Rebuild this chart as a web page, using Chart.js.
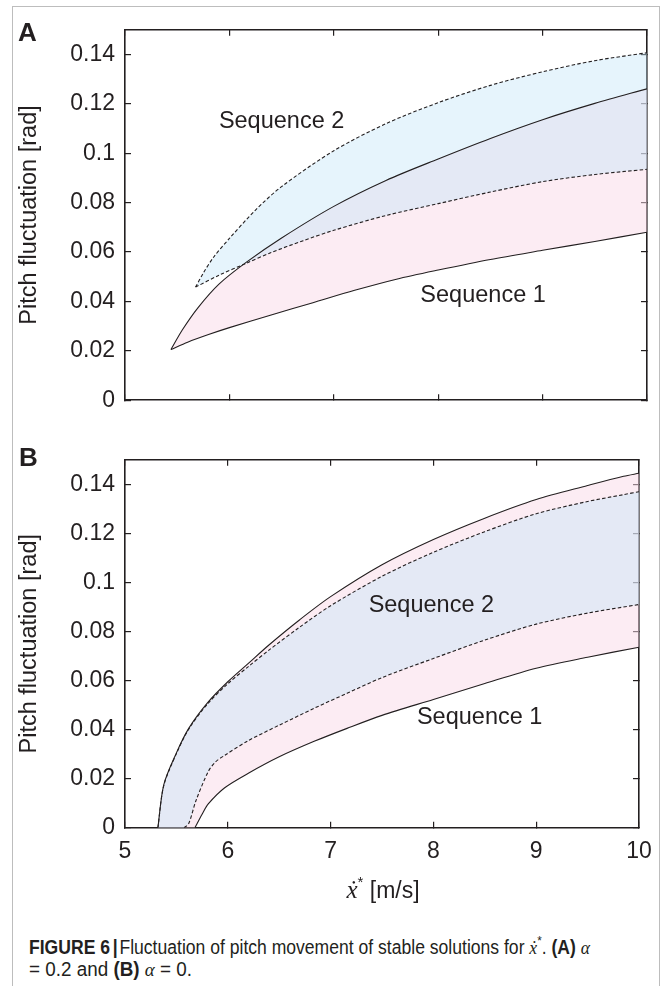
<!DOCTYPE html>
<html>
<head>
<meta charset="utf-8">
<title>Figure 6 - pitch fluctuation</title>
<script src="https://cdn.jsdelivr.net/npm/chart.js@4.4.1/dist/chart.umd.min.js"></script>
<style>
  html, body { margin: 0; padding: 0; background: #fff; }
  body {
    width: 668px; height: 986px; position: relative; overflow: hidden;
    font-family: "Liberation Sans", Arial, Helvetica, sans-serif; color: #231f20;
  }
  .outline {
    position: absolute; left: 12px; top: 6px; width: 648px; height: 1010px;
    border: 1.5px solid #bdbdbd; box-sizing: border-box;
  }
  canvas { position: absolute; left: 0; }
  #chartA { top: 0; }
  #chartB { top: 430px; }
  .letter { position: absolute; font-weight: bold; font-size: 26px; line-height: 1; }
  .xtitle {
    position: absolute; left: 0; width: 766px; top: 876px; text-align: center;
    font-size: 23px; line-height: 1; white-space: nowrap;
  }
  .mth { font-family: "Liberation Serif", "DejaVu Serif", serif; font-style: italic; }
  .xtitle .mth { font-size: 25px; }
  .xtitle sup { font-size: 15px; position: relative; top: -2px; }
  .cap {
    position: absolute; left: 29px; font-size: 19.5px; line-height: 1; white-space: nowrap;
    font-family: "Liberation Sans Narrow", "Liberation Sans", Arial, sans-serif;
    transform-origin: 0 0;
  }
  .cap .bar { font-weight: bold; margin: 0 2px 0 3px; }
  .cap sup { font-size: 13px; position: relative; top: -1px; }
  #cap1 { top: 935px; }
  #cap2 { top: 959.5px; }
</style>
</head>
<body>
<div class="outline"></div>
<canvas id="chartA" width="668" height="430"></canvas>
<canvas id="chartB" width="668" height="456"></canvas>
<div class="letter" style="left:18px; top:18.7px;">A</div>
<div class="letter" style="left:19px; top:444px;">B</div>
<div class="xtitle"><span class="mth">ẋ</span><sup>*</sup> [m/s]</div>
<div class="cap" id="cap1"><b>FIGURE 6</b><span class="bar">|</span>Fluctuation of pitch movement of stable solutions for <span class="mth">ẋ</span><sup>*</sup>. <b>(A)</b> <span class="mth">α</span></div>
<div class="cap" id="cap2">= 0.2 and <b>(B)</b> <span class="mth">α</span> = 0.</div>

<script>
// axis ticks
const xTickValues = [5, 6, 7, 8, 9, 10];
const xTickLabels = ['5', '6', '7', '8', '9', '10'];
const yTickValues = [0, 0.02, 0.04, 0.06, 0.08, 0.1, 0.12, 0.14];
const yTickLabels = ['0', '0.02', '0.04', '0.06', '0.08', '0.1', '0.12', '0.14'];

// (A) alpha = 0.2  (solid = Sequence 1, dashed = Sequence 2)
const aSeq1UpperX = [5.44, 5.55, 5.7, 5.9, 6.16, 6.5, 7.0, 7.5, 8.0, 8.5, 9.0, 9.5, 10];
const aSeq1UpperY = [0.0205, 0.0285, 0.0375, 0.047, 0.0558, 0.0657, 0.0785, 0.089, 0.0977, 0.106, 0.1136, 0.1202, 0.1261];
const aSeq1LowerX = [5.44, 5.6, 5.8, 6.0, 6.4, 6.8, 7.2, 7.6, 8.0, 8.5, 9.0, 9.5, 10];
const aSeq1LowerY = [0.0205, 0.0235, 0.0266, 0.0294, 0.0345, 0.0395, 0.0445, 0.049, 0.0527, 0.057, 0.0607, 0.0643, 0.068];
const aSeq2UpperX = [5.676, 5.75, 5.85, 6.0, 6.25, 6.5, 7.0, 7.5, 8.0, 8.5, 9.0, 9.5, 10];
const aSeq2UpperY = [0.0458, 0.0515, 0.058, 0.0655, 0.077, 0.0865, 0.101, 0.112, 0.1205, 0.1275, 0.133, 0.1375, 0.1407];
const aSeq2LowerX = [5.676, 5.9, 6.165, 6.4, 6.7, 7.0, 7.5, 8.0, 8.5, 9.0, 9.5, 10];
const aSeq2LowerY = [0.0458, 0.0506, 0.0555, 0.0598, 0.0645, 0.0688, 0.0748, 0.0796, 0.0843, 0.0885, 0.0914, 0.0935];

// (B) alpha = 0
const bSeq1UpperX = [5.32, 5.377, 5.5, 5.62, 5.8, 6.0, 6.2, 6.4, 6.7, 7.0, 7.5, 8.0, 8.5, 9.0, 9.5, 9.85, 10];
const bSeq1UpperY = [0, 0.0175, 0.0305, 0.0405, 0.0508, 0.0595, 0.067, 0.0745, 0.0848, 0.0942, 0.1072, 0.1175, 0.1262, 0.1338, 0.1395, 0.1433, 0.1445];
const bSeq1LowerX = [5.68, 5.75, 5.81, 5.97, 6.2, 6.5, 6.84, 7.16, 7.5, 8.0, 8.5, 9.0, 9.5, 10];
const bSeq1LowerY = [0, 0.0055, 0.0097, 0.0163, 0.0222, 0.0289, 0.0352, 0.0405, 0.0458, 0.0523, 0.0588, 0.065, 0.0695, 0.0736];
const bSeq2UpperX = [5.32, 5.377, 5.5, 5.62, 5.8, 6.0, 6.2, 6.4, 6.7, 7.0, 7.5, 8.0, 8.5, 9.0, 9.5, 9.85, 10];
const bSeq2UpperY = [0, 0.0172, 0.0302, 0.0402, 0.0503, 0.0587, 0.0657, 0.0724, 0.0818, 0.0905, 0.1025, 0.1123, 0.1207, 0.128, 0.133, 0.1358, 0.137];
const bSeq2LowerX = [5.575, 5.62, 5.69, 5.81, 5.88, 5.97, 6.2, 6.5, 6.84, 7.16, 7.5, 8.0, 8.5, 9.0, 9.5, 10];
const bSeq2LowerY = [0, 0.0017, 0.011, 0.0229, 0.0268, 0.0295, 0.0355, 0.0418, 0.0487, 0.0548, 0.0612, 0.069, 0.0765, 0.083, 0.0875, 0.091];

const seqNames = ['Sequence 1', 'Sequence 2'];

const ink = '#231f20';
const sans = '"Liberation Sans", Arial, sans-serif';
const seq1Fill = 'rgba(249, 217, 231, 0.5)';
const seq2Fill = 'rgba(196, 229, 248, 0.42)';

function pts(xs, ys) {
  return xs.map((x, i) => ({ x: x, y: ys[i] }));
}

// closed outline: upper edge left->right, then lower edge right->left
function outline(upper, lower) {
  const up = upper.slice();
  const low = lower.slice().reverse();
  return up.concat([up[up.length - 1], low[0]], low);
}

function curve(data, dashed) {
  return {
    data: data,
    borderColor: ink,
    borderWidth: 1.1,
    borderDash: dashed ? [3.5, 2.2] : [],
    pointRadius: 0,
    tension: 0.3,
    fill: false
  };
}

function region(upper, lower, color) {
  return {
    data: outline(upper, lower),
    borderWidth: 0,
    pointRadius: 0,
    tension: 0.3,
    backgroundColor: color,
    fill: 'shape'
  };
}

function axis(kind, position, showLabels, size) {
  const horizontal = kind === 'x';
  const values = horizontal ? xTickValues : yTickValues;
  const labels = horizontal ? xTickLabels : yTickLabels;
  return {
    type: 'linear',
    position: position,
    display: true,
    min: horizontal ? 5 : 0,
    max: horizontal ? 10 : 0.15,
    afterBuildTicks: s => { s.ticks = values.map(v => ({ value: v })); },
    afterFit: s => { if (horizontal) s.height = size; else s.width = size; },
    grid: { drawOnChartArea: false, drawTicks: true, tickLength: -6, color: ink, lineWidth: 1.2 },
    border: { display: true, color: ink, width: 1.6 },
    ticks: {
      display: showLabels,
      autoSkip: false,
      maxRotation: 0,
      padding: horizontal ? 16.2 : 16,
      color: ink,
      font: { family: sans, size: 23 },
      callback: (v, i) => labels[i]
    },
    title: {
      display: showLabels && !horizontal,
      text: 'Pitch fluctuation [rad]',
      color: ink,
      font: { family: sans, size: 23.5 },
      padding: { top: 15.9, bottom: 0 }
    }
  };
}

const seqLabels = {
  id: 'seqLabels',
  afterDatasetsDraw(chart, args, opts) {
    const { ctx, scales } = chart;
    ctx.save();
    ctx.font = '23.5px ' + sans;
    ctx.fillStyle = ink;
    ctx.textAlign = 'center';
    ctx.textBaseline = 'middle';
    opts.items.forEach(it => {
      ctx.fillText(it.text, scales.x.getPixelForValue(it.x), scales.y.getPixelForValue(it.y));
    });
    ctx.restore();
  }
};

function makeChart(id, curves, labelItems, showX, pad, xSize) {
  const [s1u, s1l, s2u, s2l] = curves;
  return new Chart(document.getElementById(id), {
    type: 'line',
    data: {
      datasets: [
        curve(s1u, false), curve(s1l, false), curve(s2u, true), curve(s2l, true),
        region(s2u, s2l, seq2Fill), region(s1u, s1l, seq1Fill)
      ]
    },
    options: {
      responsive: false,
      animation: false,
      events: [],
      layout: { padding: pad },
      scales: {
        x: axis('x', 'bottom', showX, xSize),
        x2: axis('x', 'top', false, 0),
        y: axis('y', 'left', true, 125),
        y2: axis('y', 'right', false, 0)
      },
      plugins: {
        legend: { display: false },
        tooltip: { enabled: false },
        filler: { drawTime: 'beforeDatasetsDraw' },
        seqLabels: { items: labelItems }
      }
    },
    plugins: [seqLabels]
  });
}

makeChart('chartA',
  [pts(aSeq1UpperX, aSeq1UpperY), pts(aSeq1LowerX, aSeq1LowerY),
   pts(aSeq2UpperX, aSeq2UpperY), pts(aSeq2LowerX, aSeq2LowerY)],
  [{ text: seqNames[1], x: 6.5, y: 0.113 }, { text: seqNames[0], x: 8.43, y: 0.0422 }],
  false, { left: 0, right: 21, top: 24.7, bottom: 26.7 }, 0);

makeChart('chartB',
  [pts(bSeq1UpperX, bSeq1UpperY), pts(bSeq1LowerX, bSeq1LowerY),
   pts(bSeq2UpperX, bSeq2UpperY), pts(bSeq2LowerX, bSeq2LowerY)],
  [{ text: seqNames[1], x: 7.98, y: 0.0904 }, { text: seqNames[0], x: 8.45, y: 0.0448 }],
  true, { left: 0, right: 21, top: 20, bottom: 18.3 }, 40);

// squeeze the caption lines to the narrow width of the printed caption
[['cap1', 561], ['cap2', 163]].forEach(([id, target]) => {
  const el = document.getElementById(id);
  const w = el.getBoundingClientRect().width;
  if (w > 0) el.style.transform = 'scaleX(' + (target / w).toFixed(4) + ')';
});
</script>
</body>
</html>
